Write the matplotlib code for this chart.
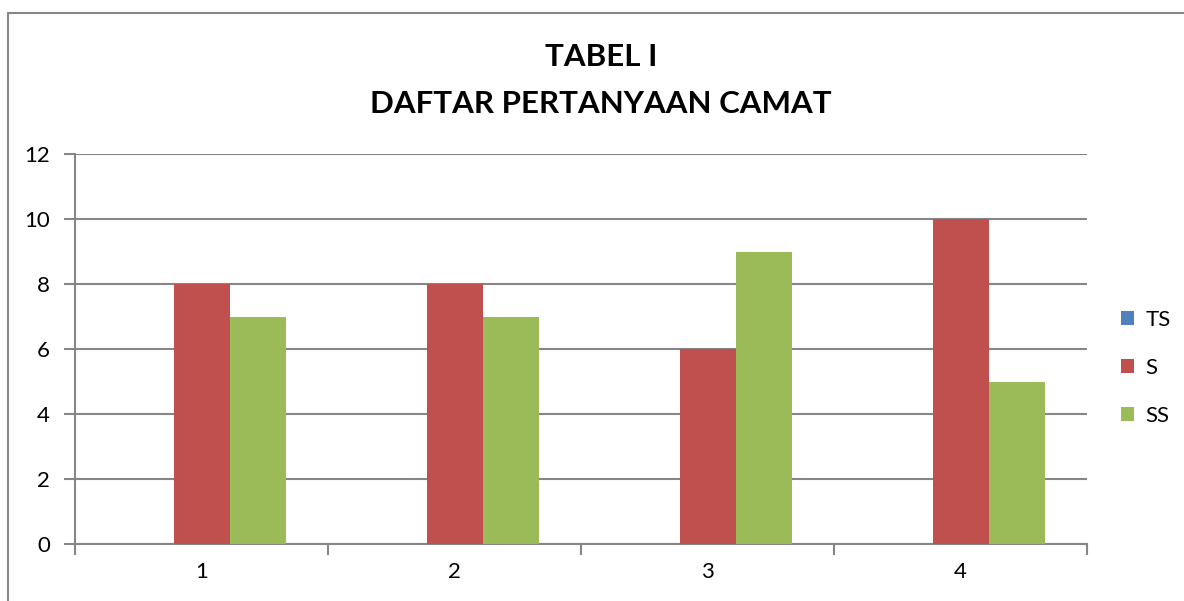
import matplotlib
matplotlib.use("Agg")
import matplotlib.pyplot as plt
import numpy as np
from matplotlib.patches import Rectangle

categories = ["1", "2", "3", "4"]
series_names = ["TS", "S", "SS"]
ts_values = [0, 0, 0, 0]
s_values = [8, 8, 6, 10]
ss_values = [7, 7, 9, 5]
colors = ["#4F81BD", "#C0504D", "#9BBB59"]
yticks = [0, 2, 4, 6, 8, 10, 12]

plt.rcParams["font.family"] = ["Lato", "DejaVu Sans"]

W, H = 1184, 601
fig = plt.figure(figsize=(W / 100, H / 100), dpi=100)
ax = fig.add_axes([75 / W, 1 - 544 / H, (1087 - 75) / W, (544 - 154) / H])

# outer chart frame (clipped on the right/bottom like the source)
fig.patches.append(Rectangle((8 / W, -0.1), 1.2, 1 - 13 / H + 0.1,
                             transform=fig.transFigure, fill=False,
                             ec="#868686", lw=1.5))

x = np.arange(len(categories))
w = 56 / 253
for i, (name, vals) in enumerate(zip(series_names, [ts_values, s_values, ss_values])):
    ax.bar(x + (i - 1) * w, vals, width=w, color=colors[i], label=name, zorder=3)

ax.set_xlim(-0.5, len(categories) - 0.5)
ax.set_ylim(0, 12)
ax.set_yticks(yticks)
ax.set_yticklabels([str(t) for t in yticks], fontsize=16)
ax.set_xticks(x)
ax.set_xticklabels(categories, fontsize=16)
ax.tick_params(axis="x", length=0, pad=13)
ax.set_xticks(np.arange(len(categories) + 1) - 0.5, minor=True)
ax.tick_params(axis="x", which="minor", length=8, color="#868686", width=1.5)
ax.tick_params(axis="y", length=8, color="#868686", width=1.5, pad=10)
ax.grid(axis="y", color="#868686", lw=1.5, zorder=0)
for side in ["top", "right"]:
    ax.spines[side].set_visible(False)
for side in ["left", "bottom"]:
    ax.spines[side].set_color("#868686")
    ax.spines[side].set_linewidth(1.5)

fig.text(601 / W, 1 - 57 / H, "TABEL I", ha="center", va="center",
         fontsize=22.5, fontweight="bold")
fig.text(601 / W, 1 - 104 / H, "DAFTAR PERTANYAAN CAMAT", ha="center", va="center",
         fontsize=22.5, fontweight="bold")

leg = fig.legend(loc="center left", bbox_to_anchor=(1101 / W, 1 - 368 / H),
                 frameon=False, fontsize=16, handlelength=0.6, handleheight=0.6,
                 labelspacing=1.25, handletextpad=0.5)

fig.savefig("out.png", dpi=100)
